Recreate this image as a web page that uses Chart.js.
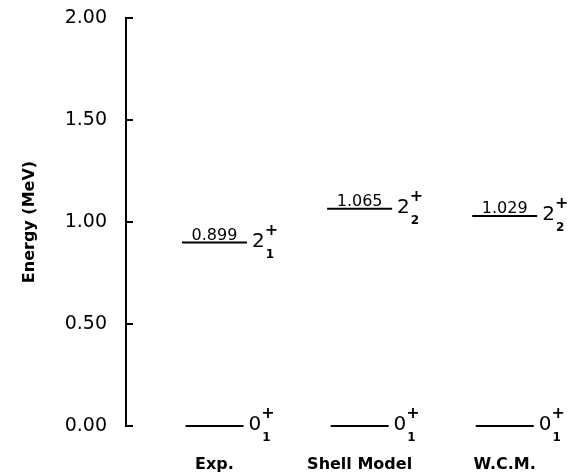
<!DOCTYPE html>
<html><head><meta charset="utf-8">
<script src="https://cdn.jsdelivr.net/npm/chart.js@4/dist/chart.umd.min.js"></script>
<style>html,body{margin:0;padding:0;background:#fff}#wrap{width:575px;height:474px;position:relative}</style>
</head><body><div id="wrap"><canvas id="c"></canvas></div>
<script>
const categories = ['Exp.', 'Shell Model', 'W.C.M.'];
const groundEnergies = [0, 0, 0];
const excitedEnergies = [0.899, 1.065, 1.029];
const excitedValueLabels = ['0.899', '1.065', '1.029'];
const groundSpins = [['0', '1', '+'], ['0', '1', '+'], ['0', '1', '+']];
const excitedSpins = [['2', '1', '+'], ['2', '2', '+'], ['2', '2', '+']];
const yTickValues = [0, 0.5, 1.0, 1.5, 2.0];

const FONT = '"DejaVu Sans", "Liberation Sans", sans-serif';

const levelLabels = {
  id: 'levelLabels',
  afterDatasetsDraw(chart) {
    const ctx = chart.ctx;
    ctx.save();
    ctx.fillStyle = '#000';
    chart.data.datasets.forEach((ds, di) => {
      const meta = chart.getDatasetMeta(di);
      meta.data.forEach((el, i) => {
        const x = el.x, y = el.y, r = ds.pointRadius;
        const spin = ds.spins[i];
        ctx.font = '20px ' + FONT;
        ctx.textAlign = 'left';
        ctx.textBaseline = 'middle';
        const x0 = x + r + 5;
        ctx.fillText(spin[0], x0, y - 1);
        const w = ctx.measureText(spin[0]).width;
        ctx.font = 'bold 12px ' + FONT;
        ctx.fillText(spin[1], x0 + w + 1, y + 12);
        ctx.font = 'bold 16px ' + FONT;
        ctx.fillText(spin[2], x0 + w, y - 12);
        if (ds.valueLabels) {
          ctx.font = '16px ' + FONT;
          ctx.textAlign = 'center';
          ctx.textBaseline = 'alphabetic';
          ctx.fillText(ds.valueLabels[i], x, y - 3);
        }
      });
    });
    ctx.restore();
  },
  afterDraw(chart) {
    const s = chart.scales.y;
    const ctx = chart.ctx;
    ctx.save();
    ctx.strokeStyle = '#000';
    ctx.lineWidth = 2;
    yTickValues.forEach(v => {
      const py = Math.round(s.getPixelForValue(v));
      ctx.beginPath();
      ctx.moveTo(s.right - 1, py);
      ctx.lineTo(s.right + 7, py);
      ctx.stroke();
    });
    ctx.restore();
  }
};

new Chart(document.getElementById('c'), {
  type: 'line',
  data: {
    datasets: [
      {
        data: categories.map((c, i) => ({ x: i, y: excitedEnergies[i] })),
        showLine: false,
        clip: false,
        pointStyle: 'line',
        pointRadius: 32.5,
        pointHoverRadius: 32.5,
        pointBorderWidth: 2,
        pointBorderColor: '#000',
        borderColor: '#000',
        spins: excitedSpins,
        valueLabels: excitedValueLabels
      },
      {
        data: categories.map((c, i) => ({ x: i, y: groundEnergies[i] })),
        showLine: false,
        clip: false,
        pointStyle: 'line',
        pointRadius: 29,
        pointHoverRadius: 29,
        pointBorderWidth: 2,
        pointBorderColor: '#000',
        borderColor: '#000',
        spins: groundSpins
      }
    ]
  },
  options: {
    responsive: true,
    maintainAspectRatio: false,
    animation: false,
    events: [],
    layout: { autoPadding: false, padding: { top: 18, right: 5, left: 0, bottom: 0 } },
    plugins: { legend: { display: false }, tooltip: { enabled: false } },
    scales: {
      x: {
        type: 'linear',
        min: -0.61,
        max: 2.45,
        afterBuildTicks: (scale) => { scale.ticks = categories.map((c, i) => ({ value: i })); },
        afterFit: (scale) => { scale.height = 48; scale.paddingLeft = 0; scale.paddingRight = 0; },
        grid: { display: false, drawTicks: false },
        border: { display: false },
        ticks: {
          padding: 29,
          color: '#000',
          maxRotation: 0,
          autoSkip: false,
          font: { family: FONT, size: 16, weight: 'bold' },
          callback: (v) => categories[v] ?? ''
        }
      },
      y: {
        min: 0,
        max: 2.0,
        afterBuildTicks: (scale) => { scale.ticks = yTickValues.map(v => ({ value: v })); },
        afterFit: (scale) => { scale.width = 126; scale.paddingTop = 0; scale.paddingBottom = 0; },
        grid: { display: false, drawTicks: false },
        border: { display: true, color: '#000', width: 2 },
        ticks: {
          padding: 19,
          color: '#000',
          font: { family: FONT, size: 19 },
          callback: (v) => Number(v).toFixed(2)
        },
        title: {
          display: true,
          text: 'Energy (MeV)',
          color: '#000',
          font: { family: FONT, size: 16, weight: 'bold' },
          padding: { top: 20, bottom: 0 }
        }
      }
    }
  },
  plugins: [levelLabels]
});
</script>
</body></html>
